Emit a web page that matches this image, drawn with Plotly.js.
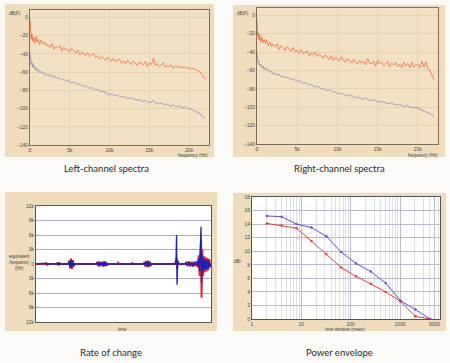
<!DOCTYPE html>
<html><head><meta charset="utf-8">
<script src="https://cdn.plot.ly/plotly-3.0.1.min.js"></script>
<style>html,body{margin:0;padding:0;background:#fcfaf7;}#chart{width:450px;height:363px;}</style>
</head><body><div id="chart"></div>
<script>
// ---------- DATA ----------
const freqs = [0,40,80,150,250,350,450,600,750,900,1050,1200,1400,1600,1800,2000,
2250,2500,2750,3000,3250,3500,3750,4000,4250,4500,4750,5000,5250,5500,5750,6000,6250,6500,6750,7000,7250,7500,7750,8000,
8250,8500,8750,9000,9250,9500,9750,10000,10250,10500,10750,11000,11250,11500,11750,12000,12250,12500,12750,13000,
13250,13500,13750,14000,14250,14500,14750,15000,15250,15500,15750,16000,16250,16500,16750,17000,17250,17500,17750,18000,
18250,18500,18750,19000,19250,19500,19750,20000,20250,20500,20750,21000,21250,21500,21750,22000];

const leftRed = [-2,-12,-20,-24,-18,-26,-22,-28,-21,-27,-24,-30,-25,-29,-27,-31,
-30,-33,-29,-35,-32,-34,-31,-37,-33,-36,-35,-38,-34,-37,-39,-36,-41,-38,-40,-42,-39,-43,-41,-40,
-44,-42,-46,-43,-45,-47,-44,-46,-48,-45,-49,-47,-46,-50,-48,-51,-47,-49,-52,-48,-50,-53,-49,-51,
-52,-48,-54,-50,-52,-45,-53,-51,-54,-52,-50,-55,-53,-54,-52,-56,-54,-55,-53,-56,-55,-54,-56,-55,
-57,-56,-57,-58,-59,-61,-64,-68];

const leftPurple = [-38,-44,-48,-52,-49,-55,-52,-57,-55,-59,-57,-61,-59,-62,-61,-64,
-62,-65,-63,-66,-65,-67,-67,-69,-68,-70,-69,-71,-72,-71,-73,-74,-73,-75,-76,-75,-77,-78,-77,-79,
-80,-79,-81,-82,-81,-83,-84,-85,-84,-85,-86,-85,-87,-87,-88,-87,-89,-89,-88,-90,
-90,-91,-90,-92,-92,-91,-93,-93,-93,-91,-94,-94,-95,-94,-95,-96,-95,-97,-97,-96,
-98,-98,-97,-99,-99,-98,-100,-100,-101,-102,-103,-104,-105,-107,-109,-111];

const rightRed = [-4,-14,-22,-19,-27,-21,-29,-24,-30,-26,-31,-27,-33,-29,-34,-31,
-34,-31,-37,-33,-35,-38,-34,-36,-39,-35,-40,-38,-41,-37,-42,-40,-39,-44,-41,-43,-40,-45,-42,-44,
-47,-43,-46,-48,-44,-49,-46,-47,-50,-45,-49,-51,-47,-50,-52,-48,-51,-53,-49,-52,-50,-54,-47,-52,
-53,-50,-55,-49,-53,-51,-55,-52,-50,-56,-52,-54,-51,-56,-53,-57,-51,-55,-52,-57,-51,-56,-54,-53,
-57,-50,-56,-51,-58,-60,-65,-70];

const rightPurple = [-40,-45,-49,-52,-50,-55,-53,-57,-55,-59,-57,-60,-59,-62,-61,-64,
-63,-65,-64,-67,-66,-68,-67,-69,-70,-69,-71,-72,-71,-73,-74,-73,-75,-76,-75,-77,-78,-77,-79,-80,
-80,-81,-82,-81,-83,-84,-83,-85,-85,-86,-85,-87,-87,-88,-87,-89,-89,-90,-89,-91,
-91,-90,-92,-92,-93,-92,-93,-94,-94,-95,-94,-95,-96,-96,-95,-97,-97,-98,-97,-98,
-99,-99,-98,-100,-100,-101,-100,-101,-102,-103,-104,-105,-106,-107,-108,-110];

const dbTicks = [0,-20,-40,-60,-80,-100,-120,-140];
const freqTickVals = [0,5000,10000,15000,20000];
const freqTickText = ['0','5k','10k','15k','20k'];

const rateTime = [0,5.5,6,6.5,7,12,12.5,13,13.5,14,18.5,19,19.5,20,20.5,21,21.5,22,
34.5,35,35.5,36,36.5,37,37.5,38,38.5,39,39.5,40,40.5,41,46.5,47,47.5,54.5,55,55.5,
61.5,62,62.5,63,63.5,64,64.5,65,65.5,66,79.5,80,80.3,80.6,81,81.5,
85.5,86,86.5,87,87.5,88,88.5,89,89.5,90,90.5,91,91.5,92,92.5,93,93.5,94,94.3,94.6,95,95.5,96,96.5,97,97.5,98,98.5,99,99.5,100];
const rateBlue = [0,0,150,-150,0,0,200,-200,150,0,0,500,-700,900,-800,600,-400,0,
0,300,-300,400,-350,300,-250,350,-400,450,-350,300,-200,0,0,150,0,0,150,0,
0,300,-400,500,-450,550,-500,400,-300,0,0,600,6000,-4300,500,0,
0,350,-300,0,400,-350,0,300,-400,0,350,-300,0,400,-500,1200,-1500,2500,7700,-3900,2000,-1500,1000,-1100,900,-1000,800,-900,700,-500,0];
const rateRed = [0,0,250,-250,0,0,300,-300,250,0,0,700,-900,1100,-1000,800,-500,0,
0,450,-450,550,-500,450,-400,500,-550,600,-500,450,-300,0,0,250,0,0,200,0,
0,450,-550,650,-600,700,-650,550,-400,0,0,900,1200,-1000,700,0,
0,500,-450,0,550,-500,0,450,-550,0,500,-450,0,600,-700,1800,-2500,3000,5000,-7000,3000,-2500,1600,-1700,1400,-1500,1200,-1300,1000,-700,0];
const rateTickVals = [-12000,-9000,-6000,-3000,0,3000,6000,9000,12000];
const rateTickText = ['12k','9k','6k','3k','0','3k','6k','9k','12k'];

const windowMs = [2,4,8,16,32,64,128,256,512,1024,2048,4096];
const envBlue = [15.2,15.1,14.0,13.5,12.2,9.9,8.2,7.0,5.3,2.7,1.4,0];
const envRed  = [14.1,13.8,13.4,11.5,9.6,7.6,6.3,5.2,4.0,2.6,0.4,0];
const windowTickVals = [1,10,100,1000,5000];
const windowTickText = ['1','10','100','1000','5000'];
const envTicks = [0,2,4,6,8,10,12,14,16,18];

// ---------- LAYOUT HELPERS ----------
const W = 450, H = 363;
function dx(a,b){return [a/W,b/W];}
function dy(top,bot){return [1-bot/H,1-top/H];}
const beige = '#efdcbd', plotBeige = '#f2e2c5', frame = '#7d6e5a';
const tf = {family:'Arial, Liberation Sans, sans-serif', size:5, color:'#444'};

const minorLog = [];
[1,10,100,1000].forEach(d=>{for(let k=2;k<=9;k++){minorLog.push(d*k);}});

const traces = [
 {x:freqs,y:leftRed,xaxis:'x',yaxis:'y',mode:'lines',line:{color:'#ef5a2a',width:0.7}},
 {x:freqs,y:leftPurple,xaxis:'x',yaxis:'y',mode:'lines',line:{color:'#9b84b8',width:0.8}},
 {x:freqs,y:rightRed,xaxis:'x2',yaxis:'y2',mode:'lines',line:{color:'#ef5a2a',width:0.7}},
 {x:freqs,y:rightPurple,xaxis:'x2',yaxis:'y2',mode:'lines',line:{color:'#9b84b8',width:0.8}},
 {x:rateTime,y:rateRed,xaxis:'x3',yaxis:'y3',mode:'lines',line:{color:'#e8202a',width:2}},
 {x:rateTime,y:rateBlue,xaxis:'x3',yaxis:'y3',mode:'lines',line:{color:'#1a22b8',width:1.3}},
 {x:windowMs,y:envRed,xaxis:'x4',yaxis:'y4',mode:'lines+markers',line:{color:'#f03a3a',width:1},marker:{size:2.5,color:'#f03a3a'}},
 {x:windowMs,y:envBlue,xaxis:'x4',yaxis:'y4',mode:'lines+markers',line:{color:'#5a4ee0',width:1},marker:{size:2.5,color:'#8a40c0'}}
];

function specX(dom){return {domain:dom,range:[0,22500],tickvals:freqTickVals,ticktext:freqTickText,showline:true,mirror:true,linecolor:frame,linewidth:1,
  showgrid:true,gridcolor:'#e6d2b2',zeroline:false,ticks:'',tickfont:tf,fixedrange:true};}
function specY(dom){return {domain:dom,range:[-140,8],tickvals:dbTicks,showline:true,mirror:true,linecolor:frame,linewidth:1,
  showgrid:true,gridcolor:'#e6d2b2',zeroline:false,ticks:'',tickfont:tf,fixedrange:true};}

const layout = {
 width:W,height:H,margin:{l:0,r:0,t:0,b:0},showlegend:false,
 paper_bgcolor:'#fcfaf7',plot_bgcolor:'rgba(0,0,0,0)',
 xaxis:Object.assign(specX(dx(30,209)),{anchor:'y'}),
 yaxis:Object.assign(specY(dy(10,145)),{anchor:'x'}),
 xaxis2:Object.assign(specX(dx(257,438)),{anchor:'y2'}),
 yaxis2:Object.assign(specY(dy(8,144)),{anchor:'x2'}),
 xaxis3:{domain:dx(36,211),anchor:'y3',range:[0,100],showticklabels:false,showgrid:false,zeroline:false,showline:true,mirror:true,linecolor:'#555',linewidth:1,ticks:''},
 yaxis3:{domain:dy(206,322),anchor:'x3',range:[-12000,12000],tickvals:rateTickVals,ticktext:rateTickText,showgrid:true,gridcolor:'#a9a9d2',zeroline:false,showline:true,mirror:true,linecolor:'#555',linewidth:1,ticks:'',tickfont:tf},
 xaxis4:{domain:dx(252,440),anchor:'y4',type:'log',range:[0,3.81],tickvals:windowTickVals,ticktext:windowTickText,showgrid:true,gridcolor:'#b9bccb',zeroline:false,
   showline:true,mirror:true,linecolor:'#555',linewidth:1,ticks:'',tickfont:tf,minor:{tickvals:minorLog,showgrid:true,gridcolor:'#dde0ea',ticks:''}},
 yaxis4:{domain:dy(197,319),anchor:'x4',range:[0,18],tickvals:envTicks,showgrid:true,gridcolor:'#b9bccb',zeroline:false,showline:true,mirror:true,linecolor:'#555',linewidth:1,ticks:'',tickfont:tf},
 shapes:[
  {type:'rect',xref:'paper',yref:'paper',x0:5/W,x1:214/W,y0:1-157/H,y1:1-4/H,fillcolor:beige,line:{width:0},layer:'below'},
  {type:'rect',xref:'paper',yref:'paper',x0:233/W,x1:445/W,y0:1-157/H,y1:1-5/H,fillcolor:beige,line:{width:0},layer:'below'},
  {type:'rect',xref:'paper',yref:'paper',x0:5/W,x1:217/W,y0:1-331/H,y1:1-192/H,fillcolor:beige,line:{width:0},layer:'below'},
  {type:'rect',xref:'paper',yref:'paper',x0:233/W,x1:446/W,y0:1-331/H,y1:1-193/H,fillcolor:beige,line:{width:0},layer:'below'},
  {type:'rect',xref:'paper',yref:'paper',x0:30/W,x1:209/W,y0:1-145/H,y1:1-10/H,fillcolor:plotBeige,line:{width:0},layer:'below'},
  {type:'rect',xref:'paper',yref:'paper',x0:257/W,x1:438/W,y0:1-144/H,y1:1-8/H,fillcolor:plotBeige,line:{width:0},layer:'below'},
  {type:'rect',xref:'paper',yref:'paper',x0:36/W,x1:211/W,y0:1-322/H,y1:1-206/H,fillcolor:'#ffffff',line:{width:0},layer:'below'},
  {type:'rect',xref:'paper',yref:'paper',x0:252/W,x1:440/W,y0:1-319/H,y1:1-197/H,fillcolor:'#ffffff',line:{width:0},layer:'below'}
 ],
 annotations:[]
};
function ann(text,px,py,size,extra){
  layout.annotations.push(Object.assign({text:text,xref:'paper',yref:'paper',x:px/W,y:1-py/H,xanchor:'center',yanchor:'middle',showarrow:false,
    font:{family:'Arial, Liberation Sans, sans-serif',size:size,color:'#444'}},extra||{}));
}
const capFont = {family:'Lato, sans-serif',size:9.5,color:'#2a2a2a'};
ann('Left-channel spectra',106,168,9.5,{font:capFont});
ann('Right-channel spectra',339,168,9.5,{font:capFont});
ann('Rate of change',111,352,9.5,{font:capFont});
ann('Power envelope',339,352,9.5,{font:capFont});
ann('dB(F)',15,13,4.5);
ann('dB(F)',243,13,4.5);
ann('frequency (Hz)',193,155,4.5);
ann('frequency (Hz)',423,155,4.5);
ann('equivalent<br>frequency<br>(Hz)',19,262,4.5);
ann('time',122,329,4.5);
ann('dBr',238,261,4.5);
ann('time window (msec)',345,329,4.5);

Plotly.newPlot('chart',traces,layout,{staticPlot:true,displayModeBar:false});
</script></body></html>
